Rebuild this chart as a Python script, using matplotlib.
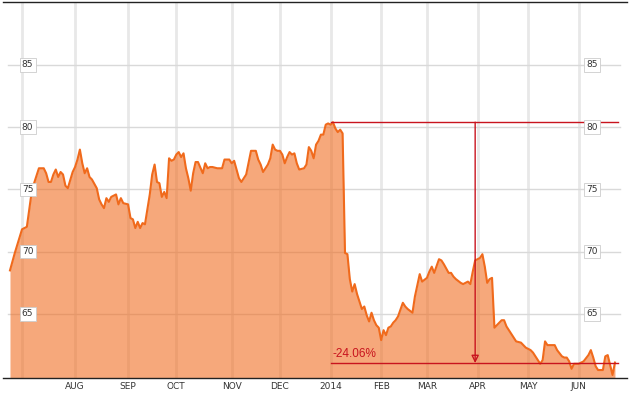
import pandas as pd
import matplotlib.pyplot as plt

# daily closes (trading days only)
dates = [
    '2013-06-24', '2013-06-26',
    '2013-07-01', '2013-07-03', '2013-07-08', '2013-07-09', '2013-07-11', '2013-07-15', '2013-07-16',
    '2013-07-17', '2013-07-18', '2013-07-19', '2013-07-22', '2013-07-23', '2013-07-24', '2013-07-25',
    '2013-07-26', '2013-07-29', '2013-07-31',
    '2013-08-01', '2013-08-02', '2013-08-05', '2013-08-06', '2013-08-07', '2013-08-08', '2013-08-09',
    '2013-08-12', '2013-08-14', '2013-08-15', '2013-08-16', '2013-08-19', '2013-08-20', '2013-08-21',
    '2013-08-22', '2013-08-26', '2013-08-27', '2013-08-28', '2013-08-29',
    '2013-09-03', '2013-09-04', '2013-09-05', '2013-09-06', '2013-09-09', '2013-09-10', '2013-09-11',
    '2013-09-12', '2013-09-16', '2013-09-17', '2013-09-18', '2013-09-19', '2013-09-20', '2013-09-23',
    '2013-09-24', '2013-09-25', '2013-09-26', '2013-09-27', '2013-09-30',
    '2013-10-01', '2013-10-02', '2013-10-03', '2013-10-04', '2013-10-07', '2013-10-08', '2013-10-09',
    '2013-10-10', '2013-10-11', '2013-10-14', '2013-10-16', '2013-10-17', '2013-10-18', '2013-10-21',
    '2013-10-22', '2013-10-24', '2013-10-28', '2013-10-29', '2013-10-31',
    '2013-11-01', '2013-11-04', '2013-11-05', '2013-11-06', '2013-11-07', '2013-11-08', '2013-11-11',
    '2013-11-13', '2013-11-14', '2013-11-15', '2013-11-18', '2013-11-19', '2013-11-20', '2013-11-22',
    '2013-11-25', '2013-11-26', '2013-11-27', '2013-11-29',
    '2013-12-02', '2013-12-03', '2013-12-04', '2013-12-05', '2013-12-06', '2013-12-09', '2013-12-10',
    '2013-12-11', '2013-12-12', '2013-12-16', '2013-12-17', '2013-12-18', '2013-12-19', '2013-12-20',
    '2013-12-23', '2013-12-24', '2013-12-26', '2013-12-27', '2013-12-30', '2013-12-31',
    '2014-01-02', '2014-01-03', '2014-01-06', '2014-01-07', '2014-01-08', '2014-01-09', '2014-01-10',
    '2014-01-13', '2014-01-14', '2014-01-15', '2014-01-16', '2014-01-17', '2014-01-21', '2014-01-22',
    '2014-01-23', '2014-01-24', '2014-01-27', '2014-01-28', '2014-01-29', '2014-01-30', '2014-01-31',
    '2014-02-03', '2014-02-04', '2014-02-05', '2014-02-06', '2014-02-07', '2014-02-10', '2014-02-11',
    '2014-02-12', '2014-02-14', '2014-02-18', '2014-02-19', '2014-02-21', '2014-02-24', '2014-02-26',
    '2014-02-27',
    '2014-03-03', '2014-03-04', '2014-03-05', '2014-03-06', '2014-03-10', '2014-03-11', '2014-03-12',
    '2014-03-14', '2014-03-17', '2014-03-18', '2014-03-19', '2014-03-21', '2014-03-24', '2014-03-26',
    '2014-03-27', '2014-03-28', '2014-03-31',
    '2014-04-02', '2014-04-03', '2014-04-04', '2014-04-07', '2014-04-08', '2014-04-09', '2014-04-10',
    '2014-04-11', '2014-04-15', '2014-04-16', '2014-04-17', '2014-04-22', '2014-04-24', '2014-04-28',
    '2014-04-30',
    '2014-05-02', '2014-05-05', '2014-05-07', '2014-05-08', '2014-05-09', '2014-05-12', '2014-05-13',
    '2014-05-15', '2014-05-16', '2014-05-19', '2014-05-21', '2014-05-22', '2014-05-23', '2014-05-27',
    '2014-05-28', '2014-05-29',
    '2014-06-02', '2014-06-04', '2014-06-06', '2014-06-09', '2014-06-10', '2014-06-11', '2014-06-12',
    '2014-06-16', '2014-06-17', '2014-06-18', '2014-06-19', '2014-06-20', '2014-06-23',
]
prices = [
    68.5, 69.9,
    71.8, 72.0, 74.8, 75.5, 76.7, 76.7, 76.3,
    75.6, 75.6, 76.2, 76.6, 76.0, 76.4, 76.2,
    75.3, 75.1, 76.4,
    76.8, 77.4, 78.2, 77.1, 76.3, 76.7, 76.0,
    75.8, 75.1, 74.2, 73.8, 73.5, 74.3, 74.0,
    74.4, 74.6, 73.8, 74.3, 73.9,
    73.8, 72.7, 72.6, 71.9, 72.4, 71.9, 72.3,
    72.2, 74.6, 76.2, 77.0, 75.6, 75.5, 74.4,
    74.8, 74.3, 77.5, 77.3, 77.4,
    77.8, 78.0, 77.6, 77.9, 76.7, 75.9, 74.9,
    76.3, 77.2, 77.2, 76.3, 77.1, 76.7, 76.8,
    76.8, 76.7, 76.7, 77.4, 77.4,
    77.1, 77.3, 76.6, 75.9, 75.6, 75.9, 76.2,
    78.1, 78.1, 78.1, 77.4, 77.0, 76.4, 77.0,
    77.5, 78.6, 78.2, 78.1,
    78.1, 77.8, 77.1, 77.6, 78.0, 77.8, 77.9,
    77.1, 76.6, 76.7, 77.0, 78.4, 78.1, 77.5,
    78.6, 78.9, 79.4, 79.4, 80.2, 80.3,
    80.2, 80.4, 79.9, 79.6, 79.8, 79.5, 69.9,
    69.8, 67.8, 66.8, 67.4, 66.6, 66.0, 65.4,
    65.6, 64.9, 64.4, 65.1, 64.5, 64.1, 63.9,
    62.9, 63.7, 63.3, 63.9, 64.0, 64.3, 64.5,
    64.8, 65.9, 65.6, 65.4, 65.1, 66.4, 68.2,
    67.6,
    67.9, 68.4, 68.8, 68.3, 69.4, 69.3, 69.0,
    68.3, 68.3, 68.0, 67.8, 67.5, 67.4, 67.6,
    67.4, 68.4, 69.3,
    69.5, 69.8, 68.8, 67.5, 67.8, 67.9, 63.9,
    64.1, 64.5, 64.5, 64.0, 63.4, 62.8, 62.7,
    62.3,
    62.1, 61.9, 61.3, 61.0, 61.3, 62.8, 62.5,
    62.5, 62.5, 62.1, 61.6, 61.5, 61.5, 61.2,
    60.6, 61.0,
    61.0, 61.2, 61.7, 62.1, 61.5, 60.8, 60.5,
    60.5, 61.6, 61.7, 60.9, 60.1, 61.1,
]

holidays = ['2013-07-04', '2013-09-02', '2013-11-28', '2013-12-25', '2014-01-01',
            '2014-01-20', '2014-02-17', '2014-04-18', '2014-05-26']

y_ticks = [65, 70, 75, 80, 85]

# measuring tool drawn on the chart
peak_date = '2014-01-02'
peak_price = 80.4
change_pct = -24.06
arrow_date = '2014-03-31'

line_color = '#F06A1C'
red = '#C8141E'

# the x axis runs on trading sessions, not calendar days
sessions = pd.bdate_range('2013-06-24', '2014-06-23', freq='C', holidays=holidays)
pos = sessions.get_indexer(pd.to_datetime(dates))

firsts = sessions.to_series().groupby(sessions.to_period('M')).first()
firsts = firsts[firsts >= pd.Timestamp('2013-07-01')]
month_pos = sessions.get_indexer(firsts.values)
month_lbl = [d.strftime('%b').upper() if d.month != 1 else str(d.year) for d in firsts]

fig = plt.figure(figsize=(6.31, 3.95), dpi=100)
ax = fig.add_axes([3 / 631, 17 / 395, 624 / 631, 376 / 395])
ymin, ymax = 59.86, 90.05
ax.set_xlim(-2.9, 256.0)
ax.set_ylim(ymin, ymax)

for p in month_pos:
    ax.axvline(p, color='#e8e8e8', lw=2, zorder=1)
for v in y_ticks:
    ax.axhline(v, xmin=5 / 624, xmax=617 / 624, color='#d9d9d9', lw=1, zorder=1)

ax.fill_between(pos, prices, ymin, color=line_color, alpha=0.58, lw=0, zorder=2)
ax.plot(pos, prices, color=line_color, lw=1.5, zorder=3, solid_joinstyle='round')

# price labels in little boxes on both sides
ytr = ax.get_yaxis_transform()
for v in y_ticks:
    for xf in (0.0393, 0.944):
        ax.text(xf, v, str(v), transform=ytr, ha='center', va='center', fontsize=6.5,
                color='#333333', zorder=6,
                bbox=dict(boxstyle='square,pad=0.25', fc='white', ec='#cccccc', lw=0.6))

# red drawdown measure
low = peak_price * (1 + change_pct / 100)
p0 = sessions.get_loc(pd.Timestamp(peak_date))
p1 = pos[-1] + 1.3
pa = sessions.get_loc(pd.Timestamp(arrow_date))
ax.plot([p0, p1], [peak_price, peak_price], color=red, lw=1, zorder=4)
ax.plot([p0, p1], [low, low], color=red, lw=1, zorder=4)
ax.annotate('', xy=(pa, low), xytext=(pa, peak_price), zorder=4,
            arrowprops=dict(arrowstyle='-|>,head_width=0.22,head_length=0.45',
                            color=red, fc='none', lw=1, shrinkA=0, shrinkB=0))
ax.annotate(f'{change_pct:.2f}%', xy=(p0, low), xytext=(1.5, 2), textcoords='offset points',
            color=red, fontsize=8.5, family='Liberation Sans', va='bottom', ha='left', zorder=5)

ax.set_xticks(month_pos[1:])
ax.set_xticklabels(month_lbl[1:])
ax.set_yticks([])
ax.tick_params(axis='x', length=0, pad=3, labelsize=6.5, labelcolor='#333333')
for s in ('left', 'right'):
    ax.spines[s].set_visible(False)
ax.spines['top'].set_color('#222222')
ax.spines['bottom'].set_color('#222222')
ax.spines['top'].set_linewidth(1)
ax.spines['bottom'].set_linewidth(1)

fig.savefig('out.png', dpi=100)
plt.close()
